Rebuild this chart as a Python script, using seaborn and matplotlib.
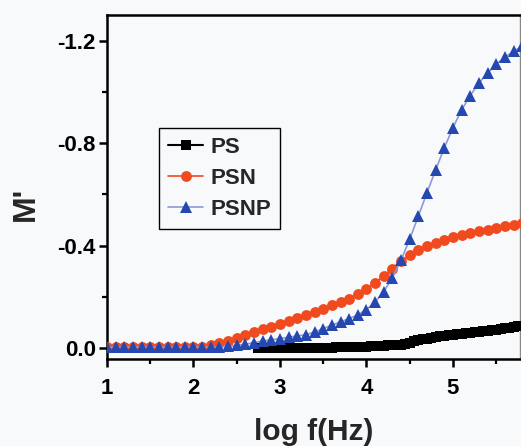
import numpy as np
import pandas as pd
import matplotlib
matplotlib.use("Agg")
import matplotlib.pyplot as plt
from matplotlib.ticker import MultipleLocator, FixedLocator
import seaborn as sns

# Frequency sweep (log10 of f in Hz)
log_f = np.round(np.arange(1.0, 5.81, 0.1), 2)
log_f_ps = np.round(np.arange(2.75, 5.81, 0.05), 2)

# M'' of PS (dense sweep, starts at high frequency)
m_ps = [
    0.000, -0.001, -0.001, -0.001, -0.001, -0.001, -0.001, -0.001,
    -0.001, -0.001, -0.001, -0.001, -0.001, -0.001, -0.001, -0.001,
    -0.001, -0.001, -0.002, -0.002, -0.002, -0.003, -0.003, -0.004,
    -0.004, -0.005, -0.006, -0.007, -0.008, -0.009, -0.010, -0.011,
    -0.012, -0.013, -0.017, -0.021, -0.026, -0.030, -0.034, -0.037,
    -0.040, -0.043, -0.045, -0.047, -0.049, -0.051, -0.053, -0.055,
    -0.057, -0.059, -0.061, -0.063, -0.066, -0.068, -0.070, -0.072,
    -0.075, -0.077, -0.079, -0.081, -0.084, -0.086,
]

# M'' of PSN
m_psn = [
    -0.003, -0.003, -0.003, -0.003, -0.003, -0.003, -0.003, -0.003,
    -0.003, -0.003, -0.003, -0.005, -0.010, -0.018, -0.028, -0.040,
    -0.052, -0.063, -0.073, -0.083, -0.095, -0.106, -0.117, -0.129,
    -0.141, -0.153, -0.166, -0.179, -0.193, -0.210, -0.230, -0.255,
    -0.282, -0.310, -0.338, -0.363, -0.383, -0.397, -0.410, -0.422,
    -0.432, -0.440, -0.448, -0.455, -0.462, -0.468, -0.475, -0.482,
    -0.488,
]

# M'' of PSNP
m_psnp = [
    -0.003, -0.003, -0.003, -0.003, -0.003, -0.003, -0.003, -0.003,
    -0.003, -0.003, -0.003, -0.003, -0.003, -0.004, -0.006, -0.010,
    -0.015, -0.021, -0.027, -0.032, -0.037, -0.042, -0.047, -0.052,
    -0.062, -0.076, -0.089, -0.102, -0.115, -0.129, -0.150, -0.180,
    -0.220, -0.275, -0.343, -0.425, -0.515, -0.607, -0.695, -0.782,
    -0.860, -0.930, -0.985, -1.035, -1.073, -1.108, -1.135, -1.158,
    -1.178,
]

series_names = ["PS", "PSN", "PSNP"]
x_ticks = [1, 2, 3, 4, 5]
y_ticks = [0.0, -0.4, -0.8, -1.2]
y_tick_labels = ["0.0", "-0.4", "-0.8", "-1.2"]

sns.set_style("ticks")
plt.rcParams["font.family"] = ["Liberation Sans", "DejaVu Sans"]
plt.rcParams["font.weight"] = "bold"
plt.rcParams["axes.unicode_minus"] = False

bg = "#f8f9fb"
fig = plt.figure(figsize=(5.21, 4.46), dpi=100, facecolor=bg)
ax = fig.add_axes([107 / 521, 1 - 359 / 446, 413 / 521, 344 / 446], facecolor=bg)

df_ps = pd.DataFrame({"logf": log_f_ps, "M": m_ps})
df_psn = pd.DataFrame({"logf": log_f, "M": m_psn})
df_psnp = pd.DataFrame({"logf": log_f, "M": m_psnp})

sns.lineplot(data=df_ps, x="logf", y="M", ax=ax, color="black", lw=1.5,
             marker="s", markersize=6.8, markeredgewidth=0, label=series_names[0],
             zorder=3)
sns.lineplot(data=df_psn, x="logf", y="M", ax=ax, color="#f04a1e", lw=1.2,
             marker="o", markersize=7.8, markeredgewidth=0, label=series_names[1],
             zorder=4)
sns.lineplot(data=df_psnp, x="logf", y="M", ax=ax, color="#8c9ad6", lw=1.2,
             marker="^", markersize=9, markeredgewidth=0,
             markerfacecolor="#2547b0", label=series_names[2], zorder=5)

ax.set_xlim(1.0, 5.775)
ax.set_ylim(0.043, -1.30)

ax.xaxis.set_major_locator(FixedLocator(x_ticks))
ax.xaxis.set_minor_locator(MultipleLocator(0.5))
ax.yaxis.set_major_locator(FixedLocator(y_ticks))
ax.set_yticklabels(y_tick_labels)
ax.yaxis.set_minor_locator(FixedLocator([-0.2, -0.6, -1.0]))

ax.tick_params(which="major", direction="out", length=6, width=1.8,
               labelsize=16, color="black", labelcolor="black")
ax.tick_params(axis="x", which="major", pad=8)
ax.tick_params(axis="y", which="major", pad=2)
ax.tick_params(which="minor", direction="out", length=3.5, width=1.6,
               color="black")
ax.tick_params(top=False, right=False, which="both")
for lab in ax.get_xticklabels() + ax.get_yticklabels():
    lab.set_fontweight("bold")

for side in ["left", "bottom", "top"]:
    ax.spines[side].set_linewidth(1.8)
    ax.spines[side].set_color("black")
ax.spines["right"].set_linewidth(1.0)
ax.spines["right"].set_color("#888888")

ax.set_xlabel("log f(Hz)", fontsize=21.5, fontweight="bold")
ax.set_ylabel("M'", fontsize=23, fontweight="bold")
ax.xaxis.set_label_coords(0.5, -0.172)
ax.yaxis.set_label_coords(-0.16, 0.45)

leg = ax.legend(loc="upper left", bbox_to_anchor=(0.126, 0.672),
                borderaxespad=0, frameon=True, fancybox=False,
                prop={"weight": "bold", "size": 16},
                handlelength=1.6, handletextpad=0.3, labelspacing=0.45,
                borderpad=0.4)
leg.get_frame().set_edgecolor("black")
leg.get_frame().set_linewidth(1.0)
leg.get_frame().set_facecolor(bg)
leg.get_frame().set_alpha(1)

fig.savefig("out.png", dpi=100, facecolor=bg)
